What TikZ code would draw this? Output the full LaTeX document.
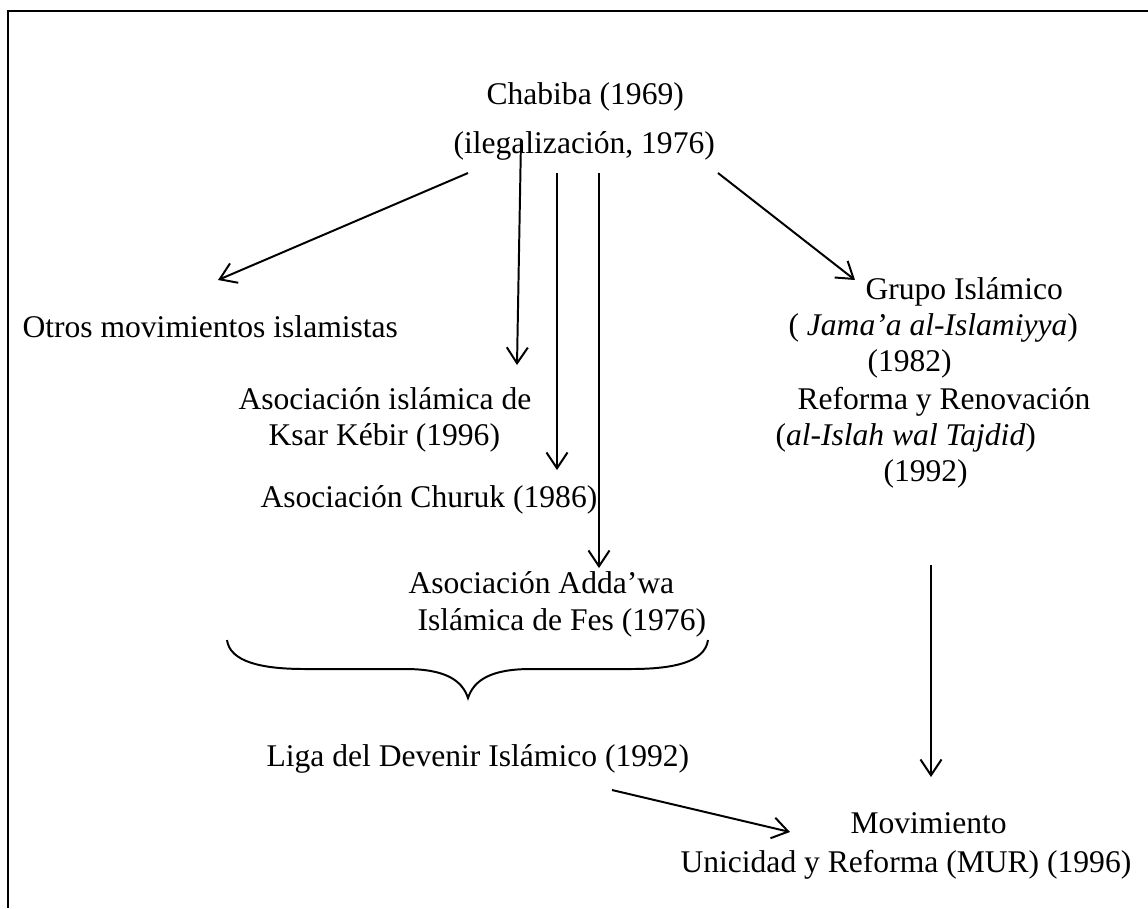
\documentclass[tikz,border=0pt]{standalone}
\usepackage{fontspec}
\setmainfont{Liberation Serif}
\usetikzlibrary{arrows.meta}
\begin{document}
\begin{tikzpicture}[x=0.38pt,y=-0.38pt,
  lbl/.style={anchor=base west,inner sep=0pt,font=\fontsize{12}{14}\selectfont},
  conn/.style={line width=0.75pt,-{Straight Barb[length=6pt,width=8pt]}},
  brace/.style={line width=0.75pt},
  frame/.style={line width=0.8pt}]
\useasboundingbox (0,0) rectangle (1148,908);
% frame (top and left sides)
\draw[frame] (8,908) -- (8,11) -- (1148,11);

% texts
\node[lbl] (chabiba) at (486,104) {Chabiba (1969)};
\node[lbl] (ilegal) at (453,153) {(ilegalización, 1976)};
\node[lbl] (otros) at (22,337) {Otros movimientos islamistas};
\node[lbl] (grupo1) at (865,299) {Grupo Islámico};
\node[lbl] (grupo2) at (788,335) {( \textit{Jama’a al-Islamiyya})};
\node[lbl] (grupo3) at (867,371) {(1982)};
\node[lbl] (ksar1) at (238,409) {Asociación islámica de};
\node[lbl] (ksar2) at (268,445) {Ksar Kébir (1996)};
\node[lbl] (ref1) at (797,409) {Reforma y Renovación};
\node[lbl] (ref2) at (775,445) {(\textit{al-Islah wal Tajdid})};
\node[lbl] (ref3) at (883,481) {(1992)};
\node[lbl] (churuk) at (260,507) {Asociación Churuk (1986)};
\node[lbl] (adda1) at (408,593) {Asociación Adda’wa};
\node[lbl] (adda2) at (417,630) {Islámica de Fes (1976)};
\node[lbl] (liga) at (266,766) {Liga del Devenir Islámico (1992)};
\node[lbl] (mur1) at (850,833) {Movimiento};
\node[lbl] (mur2) at (680,872) {Unicidad y Reforma (MUR) (1996)};

% connector end points
\coordinate (a0) at (468,173); \coordinate (a1) at (218,280);
\coordinate (b0) at (521,140); \coordinate (b1) at (517,365);
\coordinate (c0) at (557,173); \coordinate (c1) at (557,470);
\coordinate (d0) at (599,173); \coordinate (d1) at (599,568);
\coordinate (e0) at (718,173); \coordinate (e1) at (855,280);
\coordinate (f0) at (931,565); \coordinate (f1) at (931,777);
\coordinate (g0) at (612,790); \coordinate (g1) at (790,832);

\draw[conn] (a0) -- (a1);
\draw[conn] (b0) -- (b1);
\draw[conn] (c0) -- (c1);
\draw[conn] (d0) -- (d1);
\draw[conn] (e0) -- (e1);
\draw[conn] (f0) -- (f1);
\draw[conn] (g0) -- (g1);

% brace
\coordinate (br0) at (227,640);
\coordinate (brc) at (468,698);
\coordinate (br1) at (708,640);
\draw[brace] (br0) .. controls (230,662) and (262,669) .. (305,669)
  -- (405,669) .. controls (445,669) and (462,680) .. (brc)
  .. controls (474,680) and (491,669) .. (531,669)
  -- (631,669) .. controls (674,669) and (705,662) .. (br1);
\end{tikzpicture}
\end{document}
